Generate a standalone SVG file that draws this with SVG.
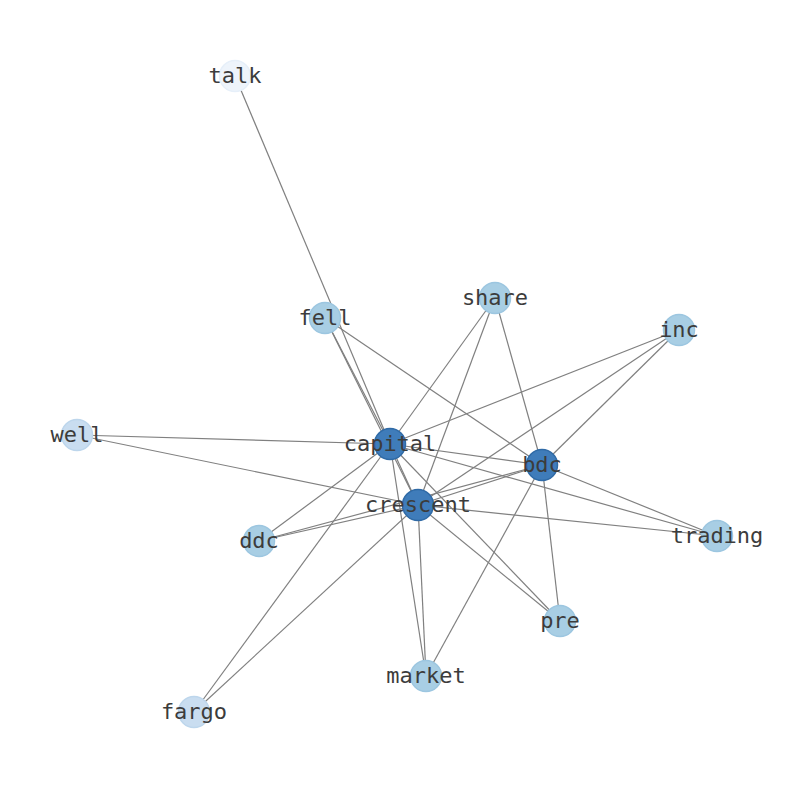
<svg xmlns="http://www.w3.org/2000/svg" width="794" height="790" viewBox="0 0 794 790">
<style>
.e{stroke:#808080;stroke-width:1.2;fill:none}
.n circle{stroke-width:1.5}
.d circle{fill:#3f7cba;stroke:#2f6aa6}
.m circle{fill:#a8cee4;stroke:#9cc6e0}
.l circle{fill:#c9ddf0;stroke:#bdd6ec}
.p circle{fill:#eef4fb;stroke:#e6eff9}
text{font-family:"DejaVu Sans Mono",monospace;font-size:22px;fill:#3c3c3c;text-anchor:middle}
</style>
<rect width="794" height="790" fill="#fff"/>
<g id="edges">
<line class="e" x1="235" y1="76" x2="390" y2="444"/>
<line class="e" x1="325" y1="318" x2="390" y2="444"/>
<line class="e" x1="325" y1="318" x2="418" y2="505"/>
<line class="e" x1="325" y1="318" x2="542" y2="465"/>
<line class="e" x1="495" y1="298" x2="390" y2="444"/>
<line class="e" x1="495" y1="298" x2="418" y2="505"/>
<line class="e" x1="495" y1="298" x2="542" y2="465"/>
<line class="e" x1="679" y1="330" x2="390" y2="444"/>
<line class="e" x1="679" y1="330" x2="418" y2="505"/>
<line class="e" x1="679" y1="330" x2="542" y2="465"/>
<line class="e" x1="77" y1="435" x2="390" y2="444"/>
<line class="e" x1="77" y1="435" x2="418" y2="505"/>
<line class="e" x1="390" y1="444" x2="418" y2="505"/>
<line class="e" x1="390" y1="444" x2="542" y2="465"/>
<line class="e" x1="418" y1="505" x2="542" y2="465"/>
<line class="e" x1="390" y1="444" x2="717" y2="536"/>
<line class="e" x1="418" y1="505" x2="717" y2="536"/>
<line class="e" x1="542" y1="465" x2="717" y2="536"/>
<line class="e" x1="390" y1="444" x2="560" y2="621"/>
<line class="e" x1="418" y1="505" x2="560" y2="621"/>
<line class="e" x1="542" y1="465" x2="560" y2="621"/>
<line class="e" x1="390" y1="444" x2="426" y2="676"/>
<line class="e" x1="418" y1="505" x2="426" y2="676"/>
<line class="e" x1="542" y1="465" x2="426" y2="676"/>
<line class="e" x1="390" y1="444" x2="259" y2="541"/>
<line class="e" x1="418" y1="505" x2="259" y2="541"/>
<line class="e" x1="542" y1="465" x2="259" y2="541"/>
<line class="e" x1="390" y1="444" x2="194" y2="712"/>
<line class="e" x1="418" y1="505" x2="194" y2="712"/>
</g>
<g id="talk" class="n p"><circle cx="235" cy="76" r="15.5"/><text x="235" y="83">talk</text></g>
<g id="fell" class="n m"><circle cx="325" cy="318" r="15.5"/><text x="325" y="325">fell</text></g>
<g id="share" class="n m"><circle cx="495" cy="298" r="15.5"/><text x="495" y="305">share</text></g>
<g id="inc" class="n m"><circle cx="679" cy="330" r="15.5"/><text x="679" y="337">inc</text></g>
<g id="well" class="n l"><circle cx="77" cy="435" r="15.5"/><text x="77" y="442">well</text></g>
<g id="capital" class="n d"><circle cx="390" cy="444" r="15.5"/><text x="390" y="451">capital</text></g>
<g id="bdc" class="n d"><circle cx="542" cy="465" r="15.5"/><text x="542" y="472">bdc</text></g>
<g id="crescent" class="n d"><circle cx="418" cy="505" r="15.5"/><text x="418" y="512">crescent</text></g>
<g id="ddc" class="n m"><circle cx="259" cy="541" r="15.5"/><text x="259" y="548">ddc</text></g>
<g id="trading" class="n m"><circle cx="717" cy="536" r="15.5"/><text x="717" y="543">trading</text></g>
<g id="pre" class="n m"><circle cx="560" cy="621" r="15.5"/><text x="560" y="628">pre</text></g>
<g id="market" class="n m"><circle cx="426" cy="676" r="15.5"/><text x="426" y="683">market</text></g>
<g id="fargo" class="n l"><circle cx="194" cy="712" r="15.5"/><text x="194" y="719">fargo</text></g>
</svg>
